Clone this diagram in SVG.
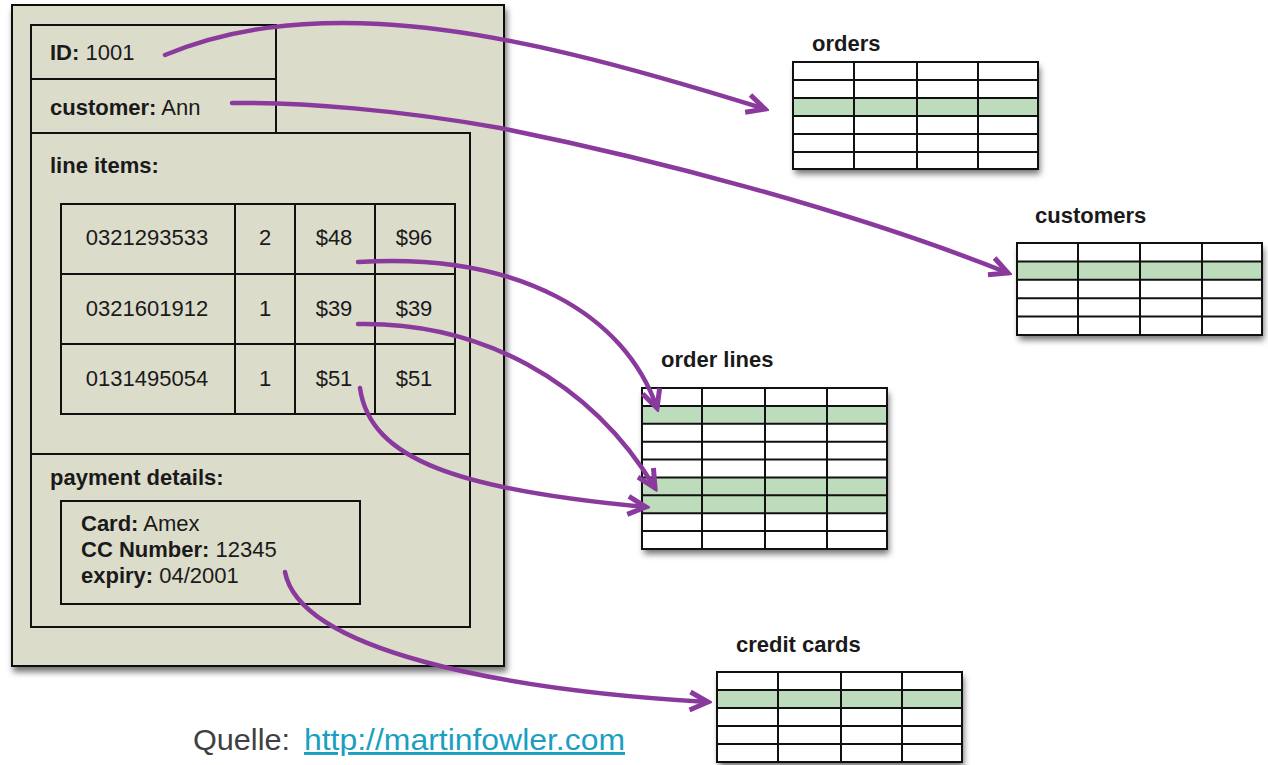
<svg xmlns="http://www.w3.org/2000/svg" width="1268" height="765" viewBox="0 0 1268 765">
<defs>
<style>
text{font-family:"Liberation Sans",Arial,Helvetica,sans-serif;fill:#1a1a1a}
.t{font-size:22px}
.b{font-weight:bold}
.lbl{font-size:22px;font-weight:bold}
.box{fill:none;stroke:#111;stroke-width:2}
.grid{fill:none;stroke:#111;stroke-width:2}
.hl{fill:#bddcbc}
.conn{fill:none;stroke:#8a3a9c;stroke-width:4.5;stroke-linecap:round}
</style>
<filter id="sh" x="-10%" y="-10%" width="130%" height="140%">
<feDropShadow dx="2" dy="5" stdDeviation="3" flood-color="#000" flood-opacity="0.55"/>
</filter>
<marker id="arr" viewBox="0 0 26 26" refX="22" refY="13" markerWidth="26" markerHeight="26" markerUnits="userSpaceOnUse" orient="auto">
<path d="M4,4 L22,13 L4,22" fill="none" stroke="#8a3a9c" stroke-width="5" stroke-linejoin="miter"/>
</marker>
</defs>
<rect width="1268" height="765" fill="#fff"/>

<g id="order-document">
<rect x="12" y="5" width="492" height="661" fill="#dcdccb" stroke="#111" stroke-width="2" filter="url(#sh)"/>
<rect class="box" x="31" y="25" width="245" height="54"/>
<rect class="box" x="31" y="79" width="245" height="54"/>
<rect class="box" x="31" y="133" width="439" height="321"/>
<rect class="box" x="31" y="454" width="439" height="173"/>
<text class="t" x="50" y="60"><tspan class="b">ID:</tspan> 1001</text>
<text class="t" x="50" y="115"><tspan class="b">customer:</tspan> Ann</text>
<text class="t b" x="50" y="173">line items:</text>
<g id="line-items-table">
<rect class="box" x="61" y="204" width="394" height="210"/>
<path class="grid" d="M61,274H455M61,344H455M235,204V414M295,204V414M375,204V414"/>
<g class="t" text-anchor="middle">
<text x="147" y="245">0321293533</text><text x="265" y="245">2</text><text x="334" y="245">$48</text><text x="414" y="245">$96</text>
<text x="147" y="316">0321601912</text><text x="265" y="316">1</text><text x="334" y="316">$39</text><text x="414" y="316">$39</text>
<text x="147" y="386">0131495054</text><text x="265" y="386">1</text><text x="334" y="386">$51</text><text x="414" y="386">$51</text>
</g>
</g>
<text class="t b" x="50" y="485">payment details:</text>
<rect class="box" x="61" y="501" width="299" height="103"/>
<text class="t" x="81" y="531"><tspan class="b">Card:</tspan> Amex</text>
<text class="t" x="81" y="557"><tspan class="b">CC Number:</tspan> 12345</text>
<text class="t" x="81" y="583"><tspan class="b">expiry:</tspan> 04/2001</text>
</g>

<g id="orders">
<text class="lbl" x="812" y="51">orders</text>
<rect x="793" y="62" width="245" height="107" fill="#fff" filter="url(#sh)"/>
<rect class="hl" x="793" y="98" width="245" height="18"/>
<path class="grid" d="M793,80H1038M793,98H1038M793,116H1038M793,134H1038M793,152H1038M854,62V169M917,62V169M978,62V169"/>
<rect class="box" x="793" y="62" width="245" height="107"/>
</g>

<g id="customers">
<text class="lbl" x="1035" y="223">customers</text>
<rect x="1017" y="243" width="245" height="92" fill="#fff" filter="url(#sh)"/>
<rect class="hl" x="1017" y="261.4" width="245" height="18.4"/>
<path class="grid" d="M1017,261.4H1262M1017,279.8H1262M1017,298.2H1262M1017,316.6H1262M1078,243V335M1140,243V335M1202,243V335"/>
<rect class="box" x="1017" y="243" width="245" height="92"/>
</g>

<g id="order-lines">
<text class="lbl" x="661" y="367">order lines</text>
<rect x="642" y="388" width="245" height="161" fill="#fff" filter="url(#sh)"/>
<rect class="hl" x="642" y="405.9" width="245" height="17.9"/>
<rect class="hl" x="642" y="477.4" width="245" height="35.8"/>
<path class="grid" d="M642,405.9H887M642,423.8H887M642,441.7H887M642,459.6H887M642,477.4H887M642,495.3H887M642,513.2H887M642,531.1H887M702,388V549M765,388V549M827,388V549"/>
<rect class="box" x="642" y="388" width="245" height="161"/>
</g>

<g id="credit-cards">
<text class="lbl" x="736" y="652">credit cards</text>
<rect x="717" y="672" width="245" height="90" fill="#fff" filter="url(#sh)"/>
<rect class="hl" x="717" y="690" width="245" height="18"/>
<path class="grid" d="M717,690H962M717,708H962M717,726H962M717,744H962M778,672V762M841,672V762M902,672V762"/>
<rect class="box" x="717" y="672" width="245" height="90"/>
</g>

<g id="connectors">
<path class="conn" marker-end="url(#arr)" d="M165,55 C230,28 300,20 380,24 C500,30 640,70 765,109"/>
<path class="conn" marker-end="url(#arr)" d="M232,103 C300,102 400,110 500,128 C650,158 850,210 1008,273"/>
<path class="conn" marker-end="url(#arr)" d="M358,262 C520,252 625,315 657,408"/>
<path class="conn" marker-end="url(#arr)" d="M358,324 C480,322 590,380 655,488"/>
<path class="conn" marker-end="url(#arr)" d="M360,388 C370,460 460,490 646,507"/>
<path class="conn" marker-end="url(#arr)" d="M285,572 C300,650 500,690 708,702"/>
</g>

<g id="source">
<text x="193" y="750" textLength="97" lengthAdjust="spacingAndGlyphs" style="font-size:29px;fill:#404040">Quelle:</text>
<text x="304" y="750" textLength="321" lengthAdjust="spacingAndGlyphs" style="font-size:29px;fill:#1a9fc0;text-decoration:underline">http://martinfowler.com</text>
</g>
</svg>
